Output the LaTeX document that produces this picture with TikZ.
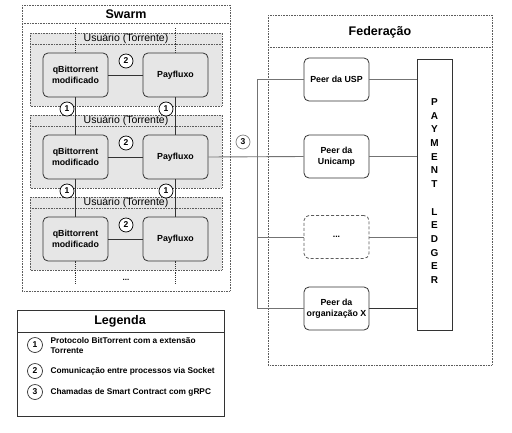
\documentclass[tikz,border=0pt]{standalone}
\usepackage{fontspec}
\setmainfont{Liberation Sans}
\usetikzlibrary{calc}
\definecolor{grpfill}{HTML}{E6E6E6}
\definecolor{boxfill}{HTML}{E6E6E6}
\definecolor{dk}{HTML}{333333}
\definecolor{ln}{HTML}{808080}
\tikzset{
  frame/.style={draw=dk!80, densely dotted, line width=0.6pt},
  grp/.style={draw=dk!80, densely dotted, fill=grpfill, line width=0.6pt},
  procbox/.style={draw=dk, fill=boxfill, rounded corners=5pt, line width=0.8pt, minimum width=65pt, minimum height=44pt, align=center, font=\bfseries\fontsize{8.8}{11}\selectfont, inner sep=1pt},
  peerbox/.style={draw=dk, fill=white, rounded corners=5pt, line width=0.8pt, minimum width=65pt, minimum height=43pt, align=center, font=\bfseries\fontsize{8.8}{11}\selectfont, inner sep=1pt},
  num/.style={circle, draw=black, fill=white, line width=0.7pt, minimum size=14pt, inner sep=0pt, font=\bfseries\fontsize{8.5}{10}\selectfont},
  numg/.style={num, draw=ln},
  conn/.style={draw=dk, line width=0.8pt},
  bus/.style={draw=ln!90!black, line width=0.9pt},
  vdot/.style={draw=dk, densely dotted, line width=1.2pt},
  title/.style={font=\bfseries\fontsize{12.5}{14}\selectfont},
  grptitle/.style={font=\fontsize{10.5}{12}\selectfont},
  legtext/.style={font=\bfseries\fontsize{8.3}{10}\selectfont, anchor=west, align=left},
}
\begin{document}
\begin{tikzpicture}[x=1pt, y=-1pt]
\useasboundingbox (0,0) rectangle (512,432);
% Swarm frame
\draw[frame] (22,5) rectangle (230,291);
\draw[frame] (22,23) -- (230,23);
\node[title] (swarmt) at (126,14) {Swarm};
% groups
\foreach \i/\dy in {1/0, 2/82, 3/164} {
  \draw[grp] (30,33+\dy) rectangle (222,106+\dy);
  \draw[frame] (30,44+\dy) -- (222,44+\dy);
  \node[grptitle] (g\i) at (126,39+\dy) {Usuário (Torrente)};
  \node[procbox] (q\i) at (75.5,75+\dy) {qBittorrent\\modificado};
  \node[procbox] (p\i) at (175.5,75+\dy) {Payfluxo};
  \draw[conn] (q\i) -- (p\i);
  \node[num] (c2\i) at (126,61+\dy) {2};
}
\draw[conn] (q1.south) -- (q2.north);
\draw[conn] (q2.south) -- (q3.north);
\draw[conn] (p1.south) -- (p2.north);
\draw[conn] (p2.south) -- (p3.north);
\node[num] (c1a) at (67,109) {1};
\node[num] (c1b) at (166,109) {1};
\node[num] (c1c) at (67,191) {1};
\node[num] (c1d) at (166,191) {1};
% dotted continuation lines
\coordinate (tq) at (75.5,28);
\coordinate (tp) at (175.5,28);
\coordinate (bq) at (75.5,284);
\coordinate (bp) at (175.5,284);
\draw[vdot] (tq) -- (q1.north);
\draw[vdot] (tp) -- (p1.north);
\draw[vdot] (q3.south) -- (bq);
\draw[vdot] (p3.south) -- (bp);
\node[font=\bfseries\fontsize{8}{9}\selectfont] (more) at (126,280) {...};
% Federation
\draw[frame] (268,15) rectangle (492,365);
\draw[frame] (268,47) -- (492,47);
\node[title] (fedt) at (380,32) {Federação};
\node[peerbox] (usp) at (336.5,79.5) {Peer da USP};
\node[peerbox] (uni) at (336.5,156.5) {Peer da\\Unicamp};
\node[peerbox, densely dashed, draw=dk!80] (etc) at (336.5,237) {...};
\node[peerbox] (orgx) at (336.5,308.5) {Peer da\\organização X};
\node[draw=dk, fill=white, line width=0.8pt, minimum width=35pt, minimum height=271pt, inner sep=0pt] (ledger) at (434.5,194.5) {};
\foreach \ch [count=\k from 0] in {P,A,Y,M,E,N,T,{},L,E,D,G,E,R} {
  \node[font=\bfseries\fontsize{10}{11}\selectfont, inner sep=0pt] at (434.5,102+13.7*\k) {\ch};
}
% bus
\coordinate (busT) at (257,79.5);
\coordinate (busB) at (257,308.5);
\draw[bus] (busT) -- (busB);
\draw[bus] (busT) -- (usp.west);
\draw[bus] (p2.east) -- (uni.west);
\draw[bus] (257,237) -- (etc.west);
\draw[bus] (busB) -- (orgx.west);
\draw[bus] (usp.east) -- (usp.east -| ledger.west);
\draw[bus] (uni.east) -- (uni.east -| ledger.west);
\draw[bus] (etc.east) -- (etc.east -| ledger.west);
\draw[conn] (orgx.east) -- (orgx.east -| ledger.west);
\node[numg] (c3) at (243,142) {3};
% Legend
\draw[draw=dk, line width=0.8pt] (17,310) rectangle (224,416);
\draw[draw=dk, line width=0.8pt] (17,332) -- (224,332);
\node[title] (legt) at (120,321) {Legenda};
\node[num, draw=dk, minimum size=15pt] (l1) at (35,345) {1};
\node[num, draw=dk, minimum size=15pt] (l2) at (35,371) {2};
\node[num, draw=dk, minimum size=15pt] (l3) at (35,392) {3};
\node[legtext] (t1) at (47,345.5) {Protocolo BitTorrent com a extensão\\Torrente};
\node[legtext] (t2) at (47,371) {Comunicação entre processos via Socket};
\node[legtext] (t3) at (47,392) {Chamadas de Smart Contract com gRPC};
\end{tikzpicture}
\end{document}
